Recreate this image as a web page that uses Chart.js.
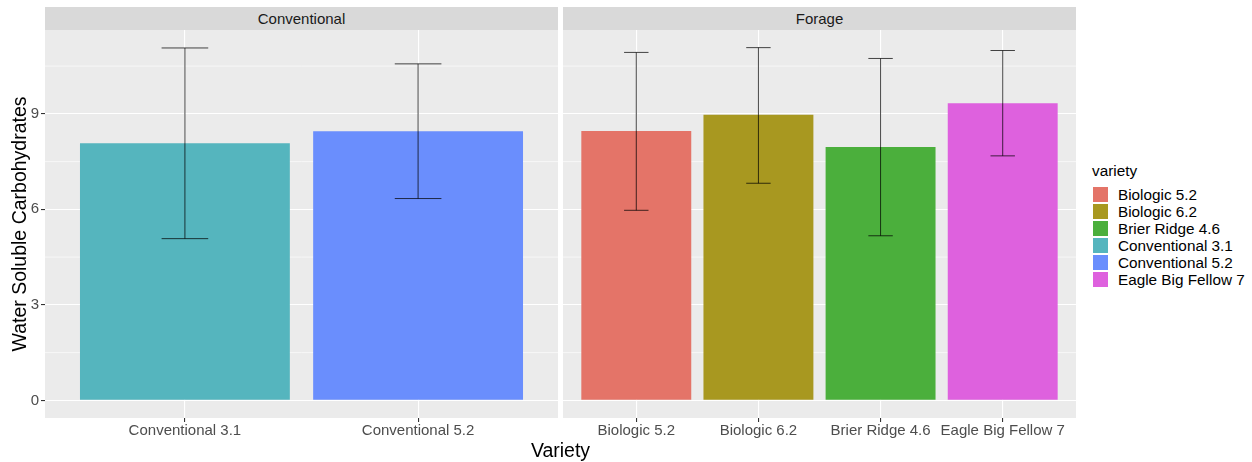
<!DOCTYPE html>
<html>
<head>
<meta charset="utf-8">
<script src="https://cdn.jsdelivr.net/npm/chart.js@4.4.1/dist/chart.umd.min.js"></script>
<style>
  html, body { margin: 0; padding: 0; background: #ffffff; }
  #wrap { position: relative; width: 1252px; height: 462px; overflow: hidden; font-family: "Liberation Sans", Arial, sans-serif; }
  canvas { position: absolute; top: 0; }
  .strip { position: absolute; top: 7px; height: 23px; background: #D9D9D9; color: #1A1A1A; font-size: 15px; line-height: 23px; text-align: center; }
  #xtitle { position: absolute; left: 45px; width: 1031px; top: 439px; text-align: center; font-size: 19.5px; color: #000; }
  #legend { position: absolute; left: 1086px; top: 160px; font-size: 15.3px; color: #000; }
  #legend .ttl { height: 22px; line-height: 22px; margin-left: 6px; margin-bottom: 4px; }
  #legend .row { height: 17px; display: flex; align-items: center; }
  #legend .key { width: 15px; height: 15px; margin-left: 7px; margin-right: 10px; }
</style>
</head>
<body>
<div id="wrap">
  <canvas id="left" width="558" height="462" style="left:0;width:558px;height:462px"></canvas>
  <canvas id="right" width="513" height="462" style="left:563px;width:513px;height:462px"></canvas>
  <div class="strip" id="s1" style="left:45px;width:513px"></div>
  <div class="strip" id="s2" style="left:563px;width:513px"></div>
  <div id="xtitle"></div>
  <div id="legend"></div>
</div>
<script>
// ---------- data ----------
const panelNames = ['Conventional', 'Forage'];
const varieties = ['Biologic 5.2', 'Biologic 6.2', 'Brier Ridge 4.6', 'Conventional 3.1', 'Conventional 5.2', 'Eagle Big Fellow 7'];
const varietyColors = ['#E47468', '#A89820', '#4BAF3C', '#55B5BE', '#6A8EFD', '#DE61DE'];

const convCats = ['Conventional 3.1', 'Conventional 5.2'];
const convMeans = [8.08, 8.45];
const convLower = [5.08, 6.34];
const convUpper = [11.07, 10.57];

const forCats = ['Biologic 5.2', 'Biologic 6.2', 'Brier Ridge 4.6', 'Eagle Big Fellow 7'];
const forMeans = [8.46, 8.97, 7.96, 9.33];
const forLower = [5.97, 6.82, 5.17, 7.68];
const forUpper = [10.93, 11.08, 10.74, 10.99];

const yTicks = [0, 3, 6, 9];
const yMinor = [1.5, 4.5, 7.5, 10.5];
const yTitle = 'Water Soluble Carbohydrates';
const xTitle = 'Variety';
const legendTitle = 'variety';

// ---------- layout text ----------
document.getElementById('s1').textContent = panelNames[0];
document.getElementById('s2').textContent = panelNames[1];
document.getElementById('xtitle').textContent = xTitle;
const lg = document.getElementById('legend');
const t = document.createElement('div'); t.className = 'ttl'; t.textContent = legendTitle; lg.appendChild(t);
varieties.forEach((v, i) => {
  const r = document.createElement('div'); r.className = 'row';
  const k = document.createElement('div'); k.className = 'key'; k.style.background = varietyColors[i];
  const s = document.createElement('span'); s.textContent = v;
  r.appendChild(k); r.appendChild(s); lg.appendChild(r);
});

// ---------- scales ----------
const yMaxData = Math.max(...convUpper, ...forUpper);
const yExp = 0.05 * (yMaxData - 0);
const yMin = 0 - yExp, yMax = yMaxData + yExp;
const FONT = "'Liberation Sans', Arial, sans-serif";

const panelPlugin = {
  id: 'panel',
  beforeDraw(chart) {
    const { ctx, chartArea: a } = chart;
    ctx.save();
    ctx.fillStyle = '#EBEBEB';
    ctx.fillRect(a.left, a.top, a.right - a.left, a.bottom - a.top);
    ctx.restore();
  },
  beforeDatasetsDraw(chart) {
    const { ctx, chartArea: a } = chart;
    const ys = chart.scales.y;
    ctx.save();
    ctx.strokeStyle = '#ffffff';
    ctx.lineWidth = 0.6;
    yMinor.forEach(v => {
      const p = ys.getPixelForValue(v);
      ctx.beginPath(); ctx.moveTo(a.left, p); ctx.lineTo(a.right, p); ctx.stroke();
    });
    ctx.restore();
  },
  afterDatasetsDraw(chart) {
    const eb = chart.options.plugins.panel;
    const { ctx } = chart;
    const xs = chart.scales.x, ys = chart.scales.y;
    ctx.save();
    ctx.strokeStyle = 'rgba(0,0,0,0.72)';
    ctx.lineWidth = 1;
    eb.lower.forEach((lo, i) => {
      const xv = i + 1;
      const cx = xs.getPixelForValue(xv);
      const half = (xs.getPixelForValue(xv + 0.1) - xs.getPixelForValue(xv - 0.1)) / 2;
      const y1 = ys.getPixelForValue(lo), y2 = ys.getPixelForValue(eb.upper[i]);
      ctx.beginPath();
      ctx.moveTo(cx, y1); ctx.lineTo(cx, y2);
      ctx.moveTo(cx - half, y1); ctx.lineTo(cx + half, y1);
      ctx.moveTo(cx - half, y2); ctx.lineTo(cx + half, y2);
      ctx.stroke();
    });
    ctx.restore();
  }
};

function makeChart(id, cats, means, lower, upper, showY) {
  const colors = cats.map(c => varietyColors[varieties.indexOf(c)]);
  return new Chart(document.getElementById(id), {
    type: 'bar',
    data: {
      datasets: [{
        data: means.map((m, i) => ({ x: i + 1, y: m })),
        backgroundColor: colors,
        borderWidth: 0,
        barPercentage: 0.9,
        categoryPercentage: 1.0
      }]
    },
    options: {
      responsive: false,
      animation: false,
      events: [],
      layout: { padding: { top: 30, left: 0, right: 0, bottom: 0 } },
      plugins: {
        legend: { display: false },
        tooltip: { enabled: false },
        panel: { lower: lower, upper: upper }
      },
      scales: {
        x: {
          type: 'linear',
          min: 0.4,
          max: cats.length + 0.6,
          bounds: 'data',
          offset: false,
          afterBuildTicks: s => { s.ticks = cats.map((c, i) => ({ value: i + 1 })); },
          afterFit: s => { s.height = 44; },
          ticks: {
            autoSkip: false, maxRotation: 0, padding: 0,
            color: '#4D4D4D',
            font: { family: FONT, size: 15 },
            callback: v => cats[Math.round(v) - 1]
          },
          grid: { offset: false, color: '#ffffff', lineWidth: 1.1, tickColor: '#333333', tickLength: 4 },
          border: { display: false }
        },
        y: {
          type: 'linear',
          min: yMin,
          max: yMax,
          bounds: 'data',
          afterBuildTicks: s => { s.ticks = yTicks.map(v => ({ value: v })); },
          afterFit: s => { s.width = showY ? 45 : 0; },
          ticks: {
            display: showY, padding: 2,
            color: '#4D4D4D',
            font: { family: FONT, size: 15 }
          },
          grid: { color: '#ffffff', lineWidth: 1.1, tickColor: '#333333', tickLength: 4, drawTicks: showY },
          border: { display: false },
          title: {
            display: showY, text: yTitle, color: '#000000',
            font: { family: FONT, size: 19.5 },
            padding: { top: 9, bottom: 0 }
          }
        }
      }
    },
    plugins: [panelPlugin]
  });
}

makeChart('left', convCats, convMeans, convLower, convUpper, true);
makeChart('right', forCats, forMeans, forLower, forUpper, false);
</script>
</body>
</html>
